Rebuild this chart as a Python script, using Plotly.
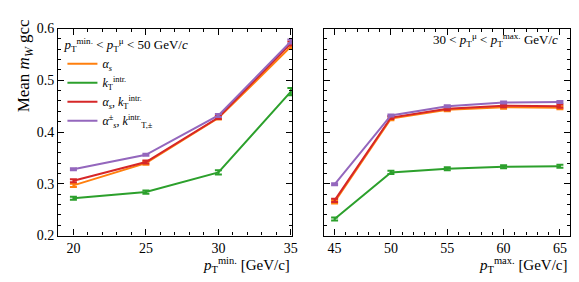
import plotly.graph_objects as go

# ---- data ----
x_min = [20, 25, 30, 35]
x_max = [45, 50, 55, 60, 65]

series_names = [
    "<i>α<sub>s</sub></i>",
    "<i>k</i><sub>T</sub><sup>intr.</sup>",
    "<i>α<sub>s</sub></i>, <i>k</i><sub>T</sub><sup>intr.</sup>",
    "<i>α</i><sup>±</sup><sub><i>s</i></sub>, <i>k</i><sup>intr.</sup><sub>T,±</sub>",
]
colors = ["#ff7f0e", "#2ca02c", "#d62728", "#9467bd"]

# left panel: vary pT min
left_vals = [
    [0.297, 0.340, 0.427, 0.565],   # alpha_s
    [0.272, 0.284, 0.322, 0.478],   # kT intr
    [0.306, 0.342, 0.428, 0.571],   # alpha_s, kT
    [0.328, 0.356, 0.432, 0.575],   # alpha_s±, kT±
]
left_errs = [
    [0.003, 0.003, 0.003, 0.004],
    [0.003, 0.003, 0.004, 0.007],
    [0.003, 0.003, 0.003, 0.004],
    [0.002, 0.002, 0.003, 0.004],
]
# right panel: vary pT max
right_vals = [
    [0.265, 0.426, 0.443, 0.448, 0.447],
    [0.232, 0.322, 0.329, 0.333, 0.334],
    [0.268, 0.428, 0.445, 0.451, 0.450],
    [0.299, 0.432, 0.450, 0.457, 0.458],
]
right_errs = [
    [0.003, 0.003, 0.003, 0.003, 0.003],
    [0.003, 0.003, 0.003, 0.003, 0.003],
    [0.003, 0.003, 0.003, 0.003, 0.003],
    [0.002, 0.002, 0.002, 0.002, 0.002],
]

FONT = "Liberation Serif"

fig = go.Figure()
for i in range(4):
    fig.add_trace(go.Scatter(
        x=x_min, y=left_vals[i], mode="lines", name=series_names[i],
        line=dict(color=colors[i], width=2),
        error_y=dict(type="data", array=left_errs[i], color=colors[i], thickness=2, width=3.5),
        xaxis="x", yaxis="y", legendgroup=str(i), showlegend=True,
    ))
for i in range(4):
    fig.add_trace(go.Scatter(
        x=x_max, y=right_vals[i], mode="lines", name=series_names[i],
        line=dict(color=colors[i], width=2),
        error_y=dict(type="data", array=right_errs[i], color=colors[i], thickness=2, width=3.5),
        xaxis="x2", yaxis="y2", legendgroup=str(i), showlegend=False,
    ))

axis_common = dict(
    showline=True, linecolor="black", linewidth=1.3, mirror="allticks",
    ticks="inside", ticklen=6, tickwidth=1.1, tickcolor="black",
    showgrid=False, zeroline=False,
    tickfont=dict(family=FONT, size=14, color="black"),
)

fig.update_layout(
    width=579, height=282,
    margin=dict(l=0, r=0, t=0, b=0),
    paper_bgcolor="white", plot_bgcolor="white",
    font=dict(family=FONT, color="black"),
    xaxis=dict(domain=[0.0876, 0.4962], range=[18.95, 35.1], tickvals=[20, 25, 30, 35],
               minor=dict(dtick=1, tick0=20, ticks="inside", ticklen=3, tickcolor="black"),
               anchor="y", **axis_common),
    yaxis=dict(domain=[0.174, 0.9493], range=[0.2, 0.6], tickvals=[0.2, 0.3, 0.4, 0.5, 0.6],
               ticktext=["0.2", "0.3", "0.4", "0.5", "0.6"],
               minor=dict(dtick=0.02, tick0=0.2, ticks="inside", ticklen=3, tickcolor="black"),
               anchor="x", **axis_common),
    xaxis2=dict(domain=[0.5515, 0.9815], range=[44.06, 65.93], tickvals=[45, 50, 55, 60, 65],
                minor=dict(dtick=1, tick0=45, ticks="inside", ticklen=3, tickcolor="black"),
                anchor="y2", **axis_common),
    yaxis2=dict(domain=[0.174, 0.9493], range=[0.2, 0.6], tickvals=[0.2, 0.3, 0.4, 0.5, 0.6],
                showticklabels=False,
                minor=dict(dtick=0.02, tick0=0.2, ticks="inside", ticklen=3, tickcolor="black"),
                anchor="x2", **axis_common),
    legend=dict(
        x=0.095, y=0.935, xanchor="left", yanchor="top",
        bgcolor="rgba(255,255,255,0)", borderwidth=0,
        font=dict(family=FONT, size=12, color="black"),
        title=dict(text="<i>p</i><sub>T</sub><sup>min.</sup> &lt; <i>p</i><sub>T</sub><sup>μ</sup> &lt; 50 GeV/<i>c</i>",
                   font=dict(family=FONT, size=13, color="black")),
        tracegroupgap=0, itemwidth=30, traceorder="normal",
    ),
    showlegend=True,
    annotations=[
        dict(text="30 &lt; <i>p</i><sub>T</sub><sup>μ</sup> &lt; <i>p</i><sub>T</sub><sup>max.</sup> GeV/<i>c</i>",
             xref="paper", yref="paper", x=0.963, y=0.905, xanchor="right", yanchor="middle",
             showarrow=False, font=dict(family=FONT, size=13, color="black")),
        dict(text="<i>p</i><sub>T</sub><sup>min.</sup> [GeV/c]",
             xref="paper", yref="paper", x=0.4962, y=0.065, xanchor="right", yanchor="middle",
             showarrow=False, font=dict(family=FONT, size=15, color="black")),
        dict(text="<i>p</i><sub>T</sub><sup>max.</sup> [GeV/c]",
             xref="paper", yref="paper", x=0.9815, y=0.065, xanchor="right", yanchor="middle",
             showarrow=False, font=dict(family=FONT, size=15, color="black")),
        dict(text="Mean <i>m<sub>W</sub></i> gcc",
             xref="paper", yref="paper", x=0.03, y=0.99, xanchor="center", yanchor="top",
             textangle=-90, showarrow=False, font=dict(family=FONT, size=17, color="black")),
    ],
)

fig.write_html("out.html")
